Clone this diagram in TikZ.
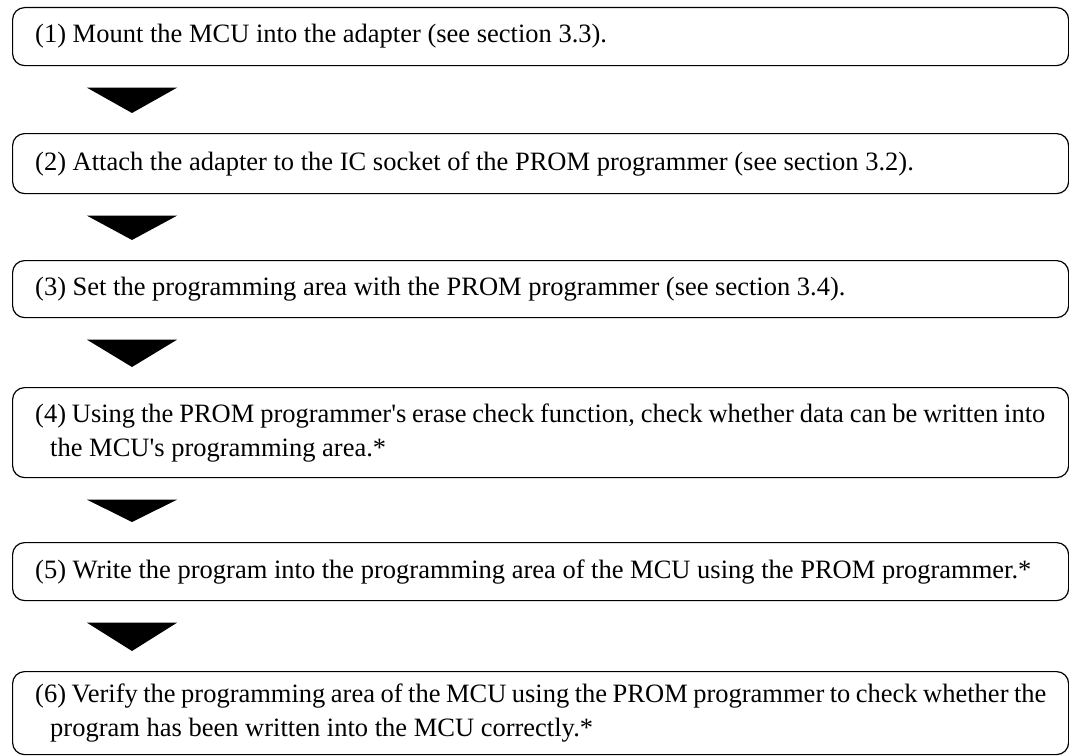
\documentclass[tikz,border=0pt]{standalone}
\usepackage{fontspec}
\newfontfamily\tnr{Liberation Serif}
\usetikzlibrary{calc}
\begin{document}
\begin{tikzpicture}[x=1bp,y=-1bp,
  box/.style={draw=black, line width=1.2bp, rounded corners=12bp, minimum width=1056bp, inner sep=0pt, anchor=north west},
  txt/.style={anchor=west, inner sep=0pt, align=left, font=\tnr\fontsize{26.5bp}{34bp}\selectfont},
  tri/.style={fill=black}]
\useasboundingbox (0,0) rectangle (1069,756);
\node[box, minimum height=58bp] (b1) at (12,7) {};
\node[box, minimum height=60bp] (b2) at (12,133) {};
\node[box, minimum height=57bp] (b3) at (12,260) {};
\node[box, minimum height=90bp] (b4) at (12,387) {};
\node[box, minimum height=58bp] (b5) at (12,542) {};
\node[box, minimum height=83bp] (b6) at (12,671) {};
\node[txt] (t1) at ([xshift=23bp]b1.west) {(1) Mount the MCU into the adapter (see section 3.3).};
\node[txt] (t2) at ([xshift=23bp]b2.west) {(2) Attach the adapter to the IC socket of the PROM programmer (see section 3.2).};
\node[txt] (t3) at ([xshift=23bp]b3.west) {(3) Set the programming area with the PROM programmer (see section 3.4).};
\node[txt] (t4) at ([xshift=23bp]b4.west) {\spaceskip=5.85bp\relax(4) Using the PROM programmer's erase check function, check whether data can be written into\\\hspace*{15bp}the MCU's programming area.*};
\node[txt] (t5) at ([xshift=23bp]b5.west) {(5) Write the program into the programming area of the MCU using the PROM programmer.*};
\node[txt] (t6) at ([xshift=23bp]b6.west) {\spaceskip=5.5bp\relax(6) Verify the programming area of the MCU using the PROM programmer to check whether the\\\hspace*{15bp}program has been written into the MCU correctly.*};
\foreach \a/\b in {b1/b2,b2/b3,b3/b4,b4/b5,b5/b6}{
  \path let \p1=(\a.south west), \p2=(\b.north west) in
    [tri] (\x1+75bp,\y1-21.5bp) -- (\x1+165bp,\y1-21.5bp) -- (\x1+120bp,\y2+20bp) -- cycle;
}
\end{tikzpicture}
\end{document}
